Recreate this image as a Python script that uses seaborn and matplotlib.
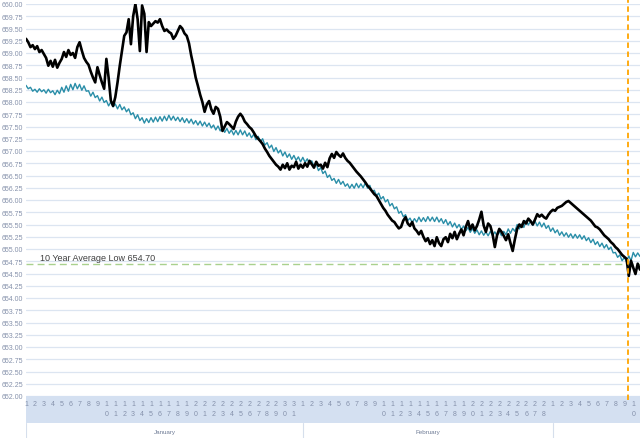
import matplotlib.pyplot as plt
import numpy as np
import pandas as pd
import seaborn as sns

# lake level readings, 4 per day starting Jan 1 (one row per day)
observed = [
    659.29, 659.22, 659.12, 659.16,  659.08, 659.14, 659.02, 659.06,
    658.98, 658.90, 658.74, 658.84,  658.72, 658.86, 658.70, 658.80,
    658.88, 659.02, 658.92, 659.06,  658.96, 659.00, 658.90, 659.12,
    659.22, 659.05, 658.90, 658.82,  658.76, 658.62, 658.50, 658.40,
    658.71, 658.55, 658.40, 658.27,  658.88, 658.50, 658.03, 657.92,
    658.10, 658.40, 658.74, 659.05,  659.35, 659.42, 659.69, 659.18,
    659.75, 660.00, 659.69, 659.04,  659.97, 659.80, 659.02, 659.63,
    659.55, 659.60, 659.65, 659.62,  659.69, 659.55, 659.45, 659.48,
    659.43, 659.40, 659.29, 659.35,  659.45, 659.55, 659.50, 659.40,
    659.35, 659.20, 658.95, 658.74,  658.50, 658.33, 658.15, 658.00,
    657.80, 657.95, 658.02, 657.85,  657.76, 657.90, 657.86, 657.70,
    657.41, 657.50, 657.59, 657.55,  657.50, 657.45, 657.60, 657.70,
    657.76, 657.70, 657.60, 657.55,  657.49, 657.45, 657.38, 657.30,
    657.25, 657.20, 657.14, 657.05,  656.98, 656.90, 656.84, 656.78,
    656.72, 656.68, 656.62, 656.72,  656.65, 656.75, 656.62, 656.70,
    656.67, 656.78, 656.64, 656.72,  656.66, 656.75, 656.68, 656.80,
    656.73, 656.66, 656.78, 656.70,  656.72, 656.64, 656.76, 656.67,
    656.85, 656.94, 656.86, 656.98,  656.92, 656.88, 656.95, 656.86,
    656.80, 656.76, 656.70, 656.64,  656.58, 656.53, 656.48, 656.42,
    656.36, 656.29, 656.24, 656.18,  656.12, 656.08, 656.00, 655.92,
    655.84, 655.78, 655.70, 655.64,  655.58, 655.55, 655.48, 655.42,
    655.45, 655.58, 655.65, 655.52,  655.47, 655.55, 655.42, 655.37,
    655.30, 655.37, 655.25, 655.16,  655.22, 655.10, 655.18, 655.06,
    655.24, 655.12, 655.06, 655.20,  655.24, 655.14, 655.31, 655.22,
    655.35, 655.20, 655.31, 655.40,  655.28, 655.45, 655.57, 655.40,
    655.50, 655.38, 655.47, 655.60,  655.76, 655.48, 655.35, 655.52,
    655.47, 655.30, 655.04, 655.28,  655.41, 655.35, 655.27, 655.18,
    655.30, 655.12, 654.96, 655.20,  655.41, 655.50, 655.45, 655.57,
    655.52, 655.62, 655.57, 655.50,  655.60, 655.71, 655.66, 655.70,
    655.65, 655.62, 655.70, 655.76,  655.80, 655.78, 655.84, 655.86,
    655.88, 655.92, 655.96, 655.98,  655.94, 655.90, 655.86, 655.82,
    655.78, 655.74, 655.70, 655.66,  655.62, 655.58, 655.52, 655.46,
    655.44, 655.40, 655.34, 655.28,  655.24, 655.20, 655.14, 655.10,
    655.04, 655.00, 654.94, 654.88,  654.84, 654.80, 654.45, 654.76,
    654.62, 654.49, 654.70, 654.58,
]

# long-term average level, 4 per day starting Jan 1
average = [
    658.34, 658.27, 658.30, 658.22,  658.26, 658.20, 658.27, 658.21,
    658.25, 658.18, 658.26, 658.19,  658.23, 658.15, 658.24, 658.17,
    658.30, 658.20, 658.33, 658.22,  658.36, 658.25, 658.38, 658.27,
    658.36, 658.24, 658.33, 658.22,  658.23, 658.12, 658.20, 658.09,
    658.13, 658.02, 658.10, 657.99,  658.03, 657.92, 658.00, 657.90,
    657.96, 657.86, 657.95, 657.84,  657.90, 657.80, 657.86, 657.74,
    657.78, 657.66, 657.74, 657.62,  657.68, 657.57, 657.66, 657.58,
    657.68, 657.59, 657.69, 657.60,  657.70, 657.61, 657.71, 657.62,
    657.73, 657.63, 657.71, 657.62,  657.69, 657.60, 657.68, 657.58,
    657.66, 657.57, 657.65, 657.55,  657.62, 657.53, 657.61, 657.51,
    657.59, 657.50, 657.57, 657.47,  657.53, 657.43, 657.51, 657.41,
    657.48, 657.38, 657.46, 657.36,  657.43, 657.33, 657.42, 657.33,
    657.43, 657.33, 657.41, 657.30,  657.37, 657.27, 657.34, 657.23,
    657.30, 657.19, 657.25, 657.12,  657.17, 657.06, 657.12, 656.99,
    657.07, 656.96, 657.02, 656.90,  656.98, 656.87, 656.94, 656.83,
    656.91, 656.81, 656.88, 656.78,  656.87, 656.77, 656.84, 656.73,
    656.80, 656.69, 656.74, 656.60,  656.66, 656.54, 656.59, 656.46,
    656.51, 656.40, 656.44, 656.34,  656.42, 656.32, 656.38, 656.28,
    656.33, 656.24, 656.32, 656.24,  656.34, 656.25, 656.33, 656.25,
    656.35, 656.24, 656.30, 656.17,  656.20, 656.09, 656.14, 656.02,
    656.07, 655.96, 656.01, 655.88,  655.93, 655.82, 655.86, 655.73,
    655.77, 655.66, 655.70, 655.58,  655.63, 655.54, 655.62, 655.55,
    655.65, 655.56, 655.64, 655.56,  655.66, 655.57, 655.65, 655.56,
    655.65, 655.55, 655.62, 655.52,  655.60, 655.49, 655.56, 655.45,
    655.53, 655.43, 655.50, 655.40,  655.47, 655.37, 655.44, 655.34,
    655.42, 655.32, 655.39, 655.29,  655.37, 655.28, 655.35, 655.27,
    655.36, 655.27, 655.35, 655.27,  655.36, 655.27, 655.36, 655.29,
    655.41, 655.32, 655.42, 655.36,  655.50, 655.41, 655.51, 655.44,
    655.58, 655.49, 655.57, 655.48,  655.57, 655.47, 655.55, 655.45,
    655.53, 655.42, 655.48, 655.36,  655.43, 655.33, 655.39, 655.28,
    655.35, 655.26, 655.33, 655.24,  655.31, 655.22, 655.30, 655.22,
    655.29, 655.20, 655.27, 655.17,  655.23, 655.13, 655.20, 655.09,
    655.15, 655.05, 655.12, 655.02,  655.09, 654.99, 655.04, 654.92,
    654.93, 654.83, 654.88, 654.76,  654.83, 654.74, 654.86, 654.76,
    654.93, 654.84, 654.92, 654.85,
]

months = ["January", "February", "March"]
month_days = [31, 28, 31]
avg_low = 654.70
avg_low_label = "10 Year Average Low 654.70"
today = 68.4  # day index of the latest reading (Mar 9)

sns.set_theme(style="white")
plt.rcParams['font.family'] = ['Liberation Sans', 'DejaVu Sans']

grid_col = '#dce5f1'
tick_col = '#8591ab'
band_col = '#d4e0f1'

df = pd.DataFrame({
    'day': np.arange(len(observed)) / 4 + 1,
    'observed': observed,
    'average': average,
})

fig = plt.figure(figsize=(6.4, 4.39), dpi=100)
ax = fig.add_axes([26 / 640, 42 / 439, 614 / 640, 392 / 439])
axb = fig.add_axes([26 / 640, 0, 614 / 640, 42 / 439], sharex=ax)
ax.set_zorder(3)
ax.patch.set_visible(False)

sns.lineplot(data=df, x='day', y='average', ax=ax, color='#2a8ea8', lw=1.0)
sns.lineplot(data=df, x='day', y='observed', ax=ax, color='black', lw=1.9)

ax.axhline(avg_low, color='#a9d18e', lw=1.0, ls=(0, (5, 3)), zorder=1)
ax.text(2.57, avg_low + 0.12, avg_low_label, fontsize=6.5, color='#404040', va='center')
ax.axvline(today, ymin=-0.01, ymax=1.015, color='#ffa500', lw=1.3, ls=(0, (3, 2)), clip_on=False)

x_max = 1 + 614 / 8.93
ax.set_xlim(1, x_max)
ax.set_ylim(652, 660)
ax.set_yticks(np.arange(652, 660.01, 0.25))
ax.set_yticklabels([f"{v:.2f}" for v in np.arange(652, 660.01, 0.25)])
ax.tick_params(axis='y', labelsize=5, colors=tick_col, pad=2, length=0)
ax.tick_params(axis='x', bottom=False, labelbottom=False)
ax.grid(axis='y', color=grid_col, lw=0.9)
ax.set_axisbelow(True)
for s in ax.spines.values():
    s.set_visible(False)
ax.set_xlabel('')
ax.set_ylabel('')

# two-level category axis: day numbers in a band, month names below
axb.set_ylim(0, 42)
axb.axis('off')
axb.axhspan(15, 42, color=band_col, lw=0)
start = 1
for name, n in zip(months, month_days):
    axb.plot([start, start], [0, 15], color='#d6dfec', lw=0.8)
    if start + n / 2 < x_max:
        axb.text(start + n / 2, 6, name, fontsize=4.5, color='#6f7c96', ha='center', va='center')
    for d in range(1, n + 1):
        digits = str(d)
        x = start + d - 1
        if x > x_max - 0.4:
            break
        axb.text(x, 34.5, digits[0], fontsize=5, color=tick_col, ha='center', va='center')
        if len(digits) > 1:
            axb.text(x, 24.5, digits[1], fontsize=5, color=tick_col, ha='center', va='center')
    start += n

fig.savefig('out.png', dpi=100)
